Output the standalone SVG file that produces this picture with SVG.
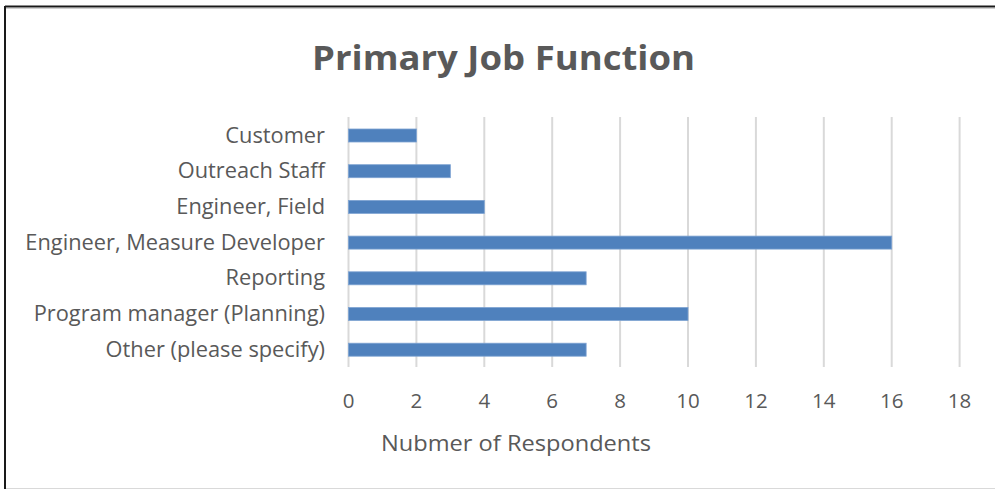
<svg xmlns="http://www.w3.org/2000/svg" width="995" height="489" viewBox="0 0 995 489">
<style>
.t{font-family:"Open Sans","Liberation Sans",sans-serif;fill:#595959}
.lab{font-size:21.8px;text-anchor:end}
.tick{font-size:20.5px;text-anchor:middle}
.grid{stroke:#d9d9d9;stroke-width:2}
.bar{fill:#4f81bd;stroke:#7ea3d2;stroke-width:0.8}
</style>
<rect x="0" y="0" width="995" height="489" fill="#ffffff"/>
<g id="frame">
<line x1="5" y1="6.5" x2="995" y2="6.5" stroke="#1a1a1a" stroke-width="2"/>
<line x1="6" y1="8.5" x2="995" y2="8.5" stroke="#d0d0d0" stroke-width="1"/>
<line x1="5" y1="6" x2="5" y2="489" stroke="#1a1a1a" stroke-width="2"/>
<line x1="6" y1="488.5" x2="995" y2="488.5" stroke="#d9d9d9" stroke-width="1"/>
</g>
<g id="title"><text class="t" x="312" y="70" font-size="34" font-weight="bold" textLength="383" lengthAdjust="spacingAndGlyphs">Primary Job Function</text></g>
<g id="gridlines">
<line class="grid" x1="348.5" y1="117" x2="348.5" y2="367"/>
<line class="grid" x1="416.4" y1="117" x2="416.4" y2="367"/>
<line class="grid" x1="484.3" y1="117" x2="484.3" y2="367"/>
<line class="grid" x1="552.2" y1="117" x2="552.2" y2="367"/>
<line class="grid" x1="620.1" y1="117" x2="620.1" y2="367"/>
<line class="grid" x1="688" y1="117" x2="688" y2="367"/>
<line class="grid" x1="755.9" y1="117" x2="755.9" y2="367"/>
<line class="grid" x1="823.8" y1="117" x2="823.8" y2="367"/>
<line class="grid" x1="891.7" y1="117" x2="891.7" y2="367"/>
<line class="grid" x1="959.6" y1="117" x2="959.6" y2="367"/>
</g>
<g id="bars">
<rect class="bar" x="348.5" y="129" width="67.9" height="13"/>
<rect class="bar" x="348.5" y="164.7" width="101.85" height="13"/>
<rect class="bar" x="348.5" y="200.4" width="135.8" height="13"/>
<rect class="bar" x="348.5" y="236.1" width="543.2" height="13"/>
<rect class="bar" x="348.5" y="271.8" width="237.65" height="13"/>
<rect class="bar" x="348.5" y="307.5" width="339.5" height="13"/>
<rect class="bar" x="348.5" y="343.2" width="237.65" height="13"/>
</g>
<g id="category-labels">
<text class="t lab" x="325" y="142.5">Customer</text>
<text class="t lab" x="325" y="178.2">Outreach Staff</text>
<text class="t lab" x="325" y="213.9">Engineer, Field</text>
<text class="t lab" x="325" y="249.6">Engineer, Measure Developer</text>
<text class="t lab" x="325" y="285.3">Reporting</text>
<text class="t lab" x="325" y="321">Program manager (Planning)</text>
<text class="t lab" x="325" y="356.7">Other (please specify)</text>
</g>
<g id="tick-labels">
<text class="t tick" x="348.5" y="408">0</text>
<text class="t tick" x="416.4" y="408">2</text>
<text class="t tick" x="484.3" y="408">4</text>
<text class="t tick" x="552.2" y="408">6</text>
<text class="t tick" x="620.1" y="408">8</text>
<text class="t tick" x="688" y="408">10</text>
<text class="t tick" x="755.9" y="408">12</text>
<text class="t tick" x="823.8" y="408">14</text>
<text class="t tick" x="891.7" y="408">16</text>
<text class="t tick" x="959.6" y="408">18</text>
</g>
<g id="axis-title"><text class="t" x="381" y="451" font-size="22.5" textLength="270" lengthAdjust="spacingAndGlyphs">Nubmer of Respondents</text></g>
</svg>
